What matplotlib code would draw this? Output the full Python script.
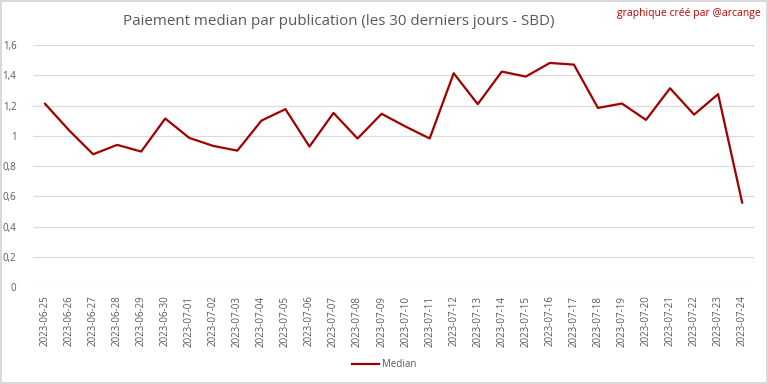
import matplotlib
matplotlib.use("Agg")
import matplotlib.pyplot as plt
import numpy as np

dates = ["2023-06-25", "2023-06-26", "2023-06-27", "2023-06-28", "2023-06-29",
         "2023-06-30", "2023-07-01", "2023-07-02", "2023-07-03", "2023-07-04",
         "2023-07-05", "2023-07-06", "2023-07-07", "2023-07-08", "2023-07-09",
         "2023-07-10", "2023-07-11", "2023-07-12", "2023-07-13", "2023-07-14",
         "2023-07-15", "2023-07-16", "2023-07-17", "2023-07-18", "2023-07-19",
         "2023-07-20", "2023-07-21", "2023-07-22", "2023-07-23", "2023-07-24"]
median = [1.211, 1.036, 0.878, 0.940, 0.896, 1.114, 0.986, 0.933, 0.902, 1.100,
          1.176, 0.929, 1.151, 0.982, 1.145, 1.061, 0.982, 1.413, 1.209, 1.424,
          1.391, 1.481, 1.470, 1.184, 1.213, 1.105, 1.314, 1.140, 1.275, 0.559]
yticks = [0, 0.2, 0.4, 0.6, 0.8, 1.0, 1.2, 1.4, 1.6]
ylabels = ["0", "0,2", "0,4", "0,6", "0,8", "1", "1,2", "1,4", "1,6"]

plt.rcParams['font.family'] = ['Open Sans', 'DejaVu Sans']
grey = "#595959"

fig = plt.figure(figsize=(7.68, 3.84), dpi=100)
fig.patch.set_edgecolor("#d9d9d9")
fig.patch.set_linewidth(1.5)
ax = fig.add_axes([0.043, 0.252, 0.939, 0.631])

x = np.arange(len(dates))
ax.plot(x, median, color="#a00000", lw=1.6, label="Median")

ax.set_xlim(-0.5, len(dates) - 0.5)
ax.set_ylim(0, 1.6)
ax.set_yticks(yticks)
ax.set_yticklabels(ylabels)
ax.set_xticks(x)
ax.set_xticklabels(dates, rotation=90)
ax.tick_params(axis="both", colors=grey, labelsize=7, length=0)
ax.tick_params(axis="x", pad=6)
ax.tick_params(axis="y", pad=12)
ax.grid(axis="y", color="#d9d9d9", lw=0.8)
ax.set_axisbelow(True)
for s in ax.spines.values():
    s.set_visible(False)

fig.text(0.441, 0.945, "Paiement median par publication (les 30 derniers jours - SBD)",
         ha="center", va="center", fontsize=10.9, color=grey)
fig.text(0.99, 0.965, "graphique créé par @arcange", ha="right", va="center",
         fontsize=7.5, color="#c00000")

fig.legend(loc="center", bbox_to_anchor=(0.5, 0.05), frameon=False,
           fontsize=7, labelcolor=grey, handlelength=2.8, handletextpad=0.3)

fig.savefig("out.png", dpi=100, edgecolor=fig.get_edgecolor())
